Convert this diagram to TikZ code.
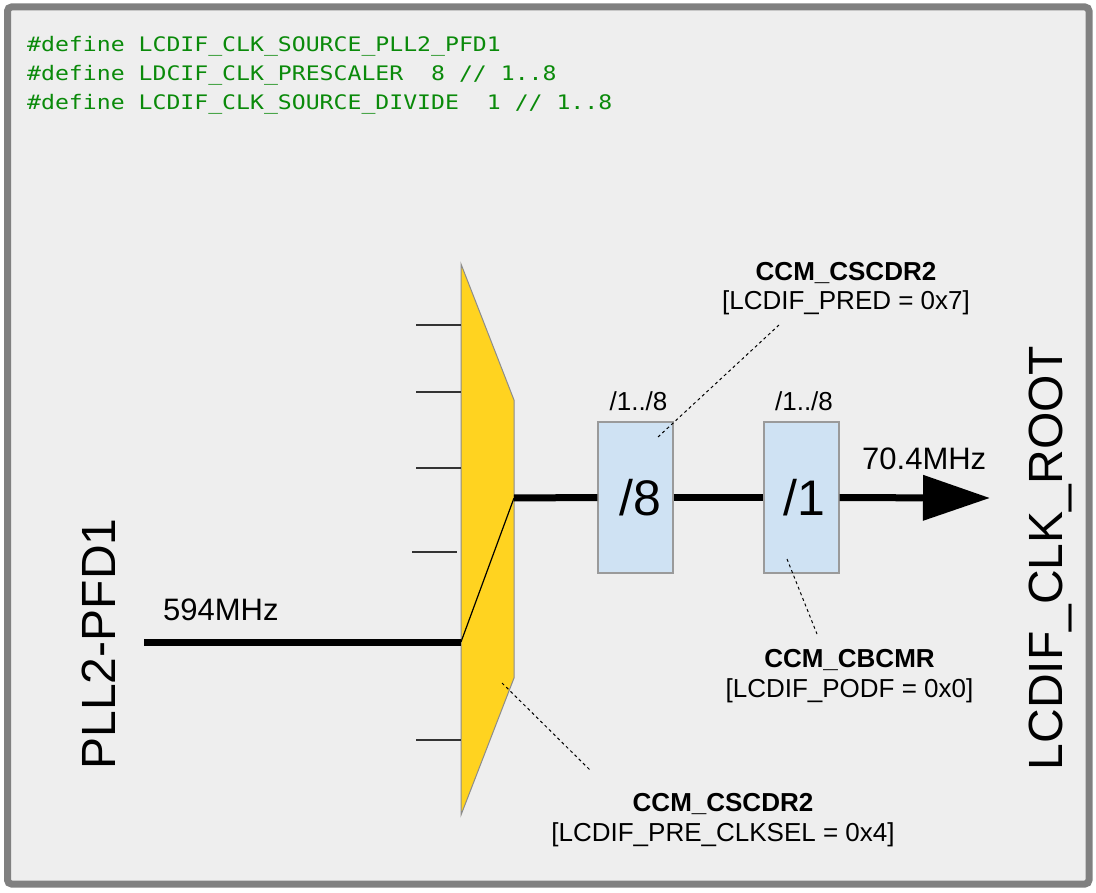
\documentclass[tikz,border=0pt]{standalone}
\usepackage{fontspec}
\setmainfont{Liberation Sans}
\newfontfamily\codefont[FakeStretch=1.157]{DejaVu Sans Mono}
\usepackage{tikz}
\usetikzlibrary{arrows.meta,positioning}
\definecolor{pagebg}{HTML}{EEEEEE}
\definecolor{frameedge}{HTML}{808080}
\definecolor{muxfill}{HTML}{FFD320}
\definecolor{boxfill}{HTML}{CFE2F3}
\definecolor{boxedge}{HTML}{9A9A9A}
\definecolor{codegreen}{HTML}{0A8A0A}
\tikzset{
  divbox/.style={rectangle, draw=boxedge, fill=boxfill, line width=1.3pt,
                 minimum width=75pt, minimum height=151pt, inner sep=0pt,
                 font=\fontsize{50}{50}\selectfont},
  regnote/.style={align=center, inner sep=0pt, anchor=base,
                  font=\fontsize{26}{29.5}\selectfont},
  codeline/.style={inner sep=0pt, anchor=base west, text=codegreen,
                   font=\codefont\fontsize{20}{24}\selectfont},
  clkwire/.style={line width=7pt, draw=black},
  leader/.style={dash pattern=on 3pt off 3pt, line width=1pt},
}

\begin{document}
\begin{tikzpicture}[
    x=1pt,
    y=-1pt,
    muxtick/.style={line width=1.3pt, draw=black!80},
    freqlabel/.style={inner sep=0pt, anchor=base west, font=\fontsize{31}{31}\selectfont},
    rangelabel/.style={inner sep=0pt, anchor=base, font=\fontsize{26}{26}\selectfont},
    clklabel/.style={inner sep=0pt, anchor=base, rotate=90, font=\fontsize{48}{48}\selectfont},
  ]
    % Page and frame
    \useasboundingbox (0,0) rectangle (1096,893);
    \fill[white] (0,0) rectangle (1096,893);
    \draw[line width=7pt, draw=frameedge, fill=pagebg, rounded corners=4pt] (7.5,7) rectangle (1089,884);

    % Defines at the top
    \node[codeline] (defsrc) at (27,52) {\#define LCDIF\_CLK\_SOURCE\_PLL2\_PFD1};
    \node[codeline] (defpre) at (27,81) {\#define LDCIF\_CLK\_PRESCALER~ 8 // 1..8};
    \node[codeline] (defdiv) at (27,110) {\#define LCDIF\_CLK\_SOURCE\_DIVIDE~ 1 // 1..8};

    % Clock select mux
    \coordinate (muxtl) at (461,264);
    \coordinate (muxtr) at (514,400);
    \coordinate (muxbr) at (514,678);
    \coordinate (muxbl) at (461,815);
    \coordinate (muxin) at (461,642);
    \coordinate (muxout) at (514,498);
    \draw[fill=muxfill, draw=black!45, line width=1pt] (muxtl) -- (muxtr) -- (muxbr) -- (muxbl) -- cycle;
    \foreach \ty in {325,392,468,740}
      \draw[muxtick] (416,\ty) -- (461,\ty);
    \draw[muxtick] (412,552) -- (457,552);
    \draw[line width=1.2pt] (muxin) -- (muxout);

    % Divider boxes
    \node[divbox] (prediv) at (635.5,497.5) {\hspace{10pt}/8};
    \node[divbox] (podfdiv) at (801.5,497.5) {\hspace{6pt}/1};
    \node[rangelabel] (prerange) at (638.5,411) {/1../8};
    \node[rangelabel] (podfrange) at (804,411) {/1../8};

    % Source and root clock
    \coordinate (pllin) at (144,642);
    \coordinate (rootout) at (990,498);
    \node[clklabel] (pllname) at (115.5,644) {PLL2-PFD1};
    \node[clklabel] (rootname) at (1062,558) {LCDIF\_CLK\_ROOT};
    \node[freqlabel] (infreq) at (163,620.5) {594MHz};
    \node[freqlabel] (outfreq) at (862,469) {70.4MHz};

    % Clock path
    \draw[clkwire] (pllin) -- (muxin);
    \draw[clkwire] (muxout) -- (prediv.west);
    \draw[clkwire] (prediv) -- (podfdiv);
    \draw[clkwire, -{Triangle[length=67pt,width=44pt]}] (podfdiv) -- (rootout);

    % Register notes (anchored on the baseline of the second line)
    \node[regnote] (prednote) at (846,310) {\textbf{CCM\_CSCDR2}\\{}[LCDIF\_PRED = 0x7]};
    \node[regnote] (podfnote) at (849.5,697) {\textbf{CCM\_CBCMR}\\{}[LCDIF\_PODF = 0x0]};
    \node[regnote] (selnote) at (723,841) {\textbf{CCM\_CSCDR2}\\{}[LCDIF\_PRE\_CLKSEL = 0x4]};

    % Dashed leaders
    \coordinate (predtip) at (658,437);
    \coordinate (predend) at (779,325);
    \coordinate (podftip) at (787,559);
    \coordinate (podfend) at (817,634);
    \coordinate (seltip) at (502,683);
    \coordinate (selend) at (590,770);
    \draw[leader] (predtip) -- (predend);
    \draw[leader] (podftip) -- (podfend);
    \draw[leader] (seltip) -- (selend);
  \end{tikzpicture}
\end{document}
